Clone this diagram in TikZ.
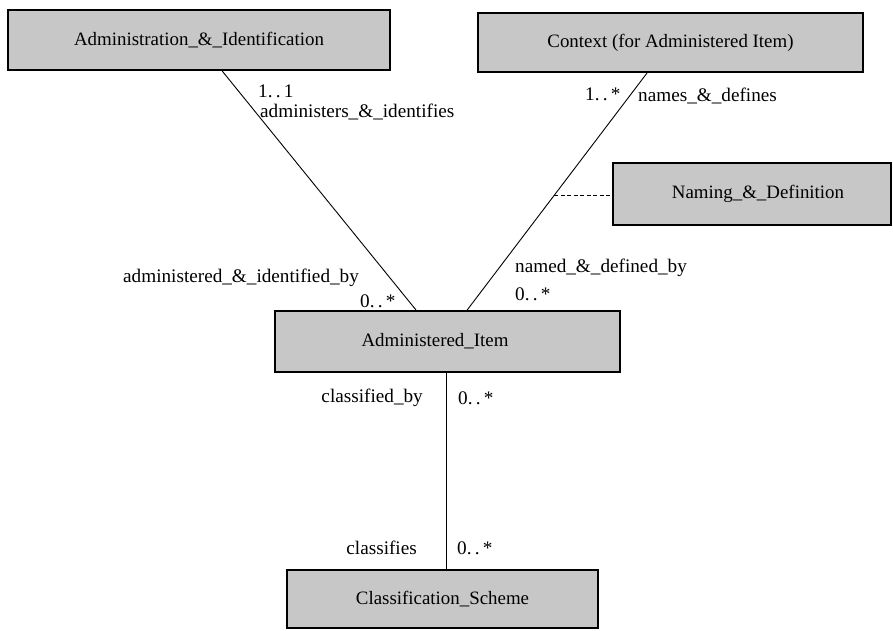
\documentclass[tikz,border=0pt]{standalone}
\usepackage{fontspec}
\setmainfont{Liberation Serif}
\usetikzlibrary{calc}
\definecolor{boxgray}{gray}{0.78}
\begin{document}
\begin{tikzpicture}[x=1pt,y=-1pt,
  umlbox/.style={draw=black, line width=1.8pt, fill=boxgray, inner sep=0pt,
    font=\fontsize{18.9}{22}\selectfont},
  lbl/.style={inner sep=0pt, font=\fontsize{19.2}{22}\selectfont},
  conn/.style={line width=0.9pt}]
\useasboundingbox (0,0) rectangle (893,630);
\node[umlbox, minimum width=382pt, minimum height=60pt] (A) at (199,40) {Administration\_\&\_Identification};
\node[umlbox, minimum width=385pt, minimum height=59pt] (C) at (670.5,42.5) {Context (for Administered Item)};
\node[umlbox, minimum width=278pt, minimum height=62pt] (N) at (752,194) {\hspace{12pt}Naming\_\&\_Definition};
\node[umlbox, minimum width=345pt, minimum height=61pt] (I) at (447.5,341.5) {\hspace{-25pt}Administered\_Item};
\node[umlbox, minimum width=311pt, minimum height=58pt] (S) at (442.5,599) {Classification\_Scheme};

\coordinate (a1) at ([xshift=215pt]A.south west);
\coordinate (i1) at ([xshift=142pt]I.north west);
\coordinate (c1) at ([xshift=170pt]C.south west);
\coordinate (i2) at ([xshift=193pt]I.north west);
\draw[conn] (a1) -- (i1);
\draw[conn] (c1) -- (i2);
\coordinate (d1) at ($(c1)!0.515!(i2)$);
\draw[conn, dashed, dash pattern=on 4pt off 2.5pt] (d1) -- (d1 -| N.west);
\coordinate (v1) at ([xshift=-1.5pt]I.south);
\draw[conn] (v1) -- (v1 |- S.north);

\node[lbl, anchor=west] (l11) at (258,91) {1.\,.\,1};
\node[lbl, anchor=west] (l12) at (260,112) {administers\_\&\_identifies};
\node[lbl, anchor=west] (l21) at (585,94) {1.\,.\,*};
\node[lbl, anchor=west] (l22) at (638,96) {names\_\&\_defines};
\node[lbl, anchor=west] (l31) at (123,278) {administered\_\&\_identified\_by};
\node[lbl, anchor=west] (l32) at (360,301) {0.\,.\,*};
\node[lbl, anchor=west] (l41) at (515,268) {named\_\&\_defined\_by};
\node[lbl, anchor=west] (l42) at (515,294) {0.\,.\,*};
\node[lbl, anchor=east] (l51) at (423,398) {classified\_by};
\node[lbl, anchor=west] (l52) at (458,398) {0.\,.\,*};
\node[lbl, anchor=east] (l61) at (417,548) {classifies};
\node[lbl, anchor=west] (l62) at (457,548) {0.\,.\,*};
\end{tikzpicture}
\end{document}
